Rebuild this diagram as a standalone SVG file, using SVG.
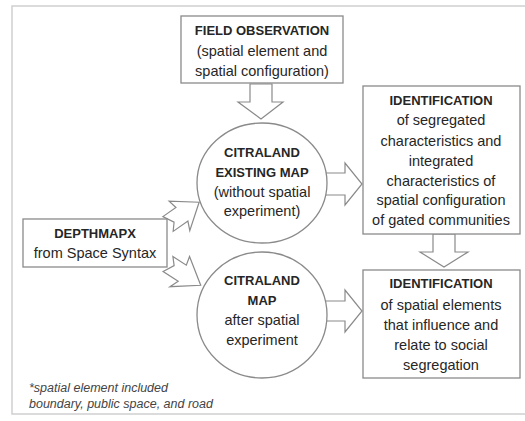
<svg xmlns="http://www.w3.org/2000/svg" width="525" height="421" viewBox="0 0 525 421">
<style>
text{font-family:"Liberation Sans",Arial,sans-serif;fill:#262626;text-anchor:middle}
.b{font-weight:bold;font-size:13px}
.r{font-size:14.5px}
.n{fill:#fff;stroke:#8a8a8a;stroke-width:1.3}
.a{fill:#fff;stroke:#8a8a8a;stroke-width:1.2;stroke-linejoin:miter}
.f{font-style:italic;font-size:12.5px;text-anchor:start;fill:#444}
</style>
<rect x="0" y="0" width="525" height="421" fill="#fff"/>
<rect x="12" y="6" width="520" height="408" fill="#fff" stroke="#cfcfcf" stroke-width="1.5"/>
<g id="connectors">
<path class="a" d="M250,84 L272,84 L272,102 L283,102 L261,119 L238,102 L250,102 Z"/>
<path class="a" d="M433,234 L455,234 L455,252 L468,252 L444,267 L420,252 L433,252 Z"/>
<path class="a" d="M320,173 L345,173 L345,163 L362,184 L345,205 L345,195 L320,195 Z"/>
<path class="a" d="M320,301 L345,301 L345,290 L362,311 L345,332 L345,321 L320,321 Z"/>
<path class="a" transform="translate(168,224) rotate(-35)" d="M0,-9 L16,-9 L14,-18 L38,0 L14,18 L18,9 L0,9 L6,2 Z"/>
<path class="a" transform="translate(168,264) rotate(33)" d="M0,-9 L16,-9 L14,-18 L39,0 L14,18 L18,9 L0,9 L6,-2 Z"/>
</g>
<g id="field">
<rect class="n" x="181" y="16" width="162" height="67"/>
<text class="b" x="262" y="35">FIELD OBSERVATION</text>
<text class="r" x="262" y="56">(spatial element and</text>
<text class="r" x="262" y="76">spatial configuration)</text>
</g>
<g id="existing">
<ellipse class="n" cx="262" cy="183" rx="65" ry="60"/>
<text class="b" x="262" y="157">CITRALAND</text>
<text class="b" x="262" y="177">EXISTING MAP</text>
<text class="r" x="262" y="197">(without spatial</text>
<text class="r" x="262" y="216">experiment)</text>
</g>
<g id="after">
<ellipse class="n" cx="262" cy="315" rx="65" ry="63"/>
<text class="b" x="262" y="285">CITRALAND</text>
<text class="b" x="262" y="305">MAP</text>
<text class="r" x="262" y="325">after spatial</text>
<text class="r" x="262" y="345">experiment</text>
</g>
<g id="depthmapx">
<rect class="n" x="23" y="219" width="144" height="48"/>
<text class="b" x="95" y="238">DEPTHMAPX</text>
<text class="r" x="95" y="258">from Space Syntax</text>
</g>
<g id="ident1">
<rect class="n" x="363" y="86" width="157" height="148"/>
<text class="b" x="441" y="105">IDENTIFICATION</text>
<text class="r" x="441" y="125">of segregated</text>
<text class="r" x="441" y="146">characteristics and</text>
<text class="r" x="441" y="166">integrated</text>
<text class="r" x="441" y="186">characteristics of</text>
<text class="r" x="441" y="205">spatial configuration</text>
<text class="r" x="441" y="225">of gated communities</text>
</g>
<g id="ident2">
<rect class="n" x="363" y="270" width="157" height="108"/>
<text class="b" x="441" y="288">IDENTIFICATION</text>
<text class="r" x="441" y="310">of spatial elements</text>
<text class="r" x="441" y="330">that influence and</text>
<text class="r" x="441" y="350">relate to social</text>
<text class="r" x="441" y="370">segregation</text>
</g>
<g id="note">
<text class="f" x="29" y="392">*spatial element included</text>
<text class="f" x="29" y="408">boundary, public space, and road</text>
</g>
</svg>
